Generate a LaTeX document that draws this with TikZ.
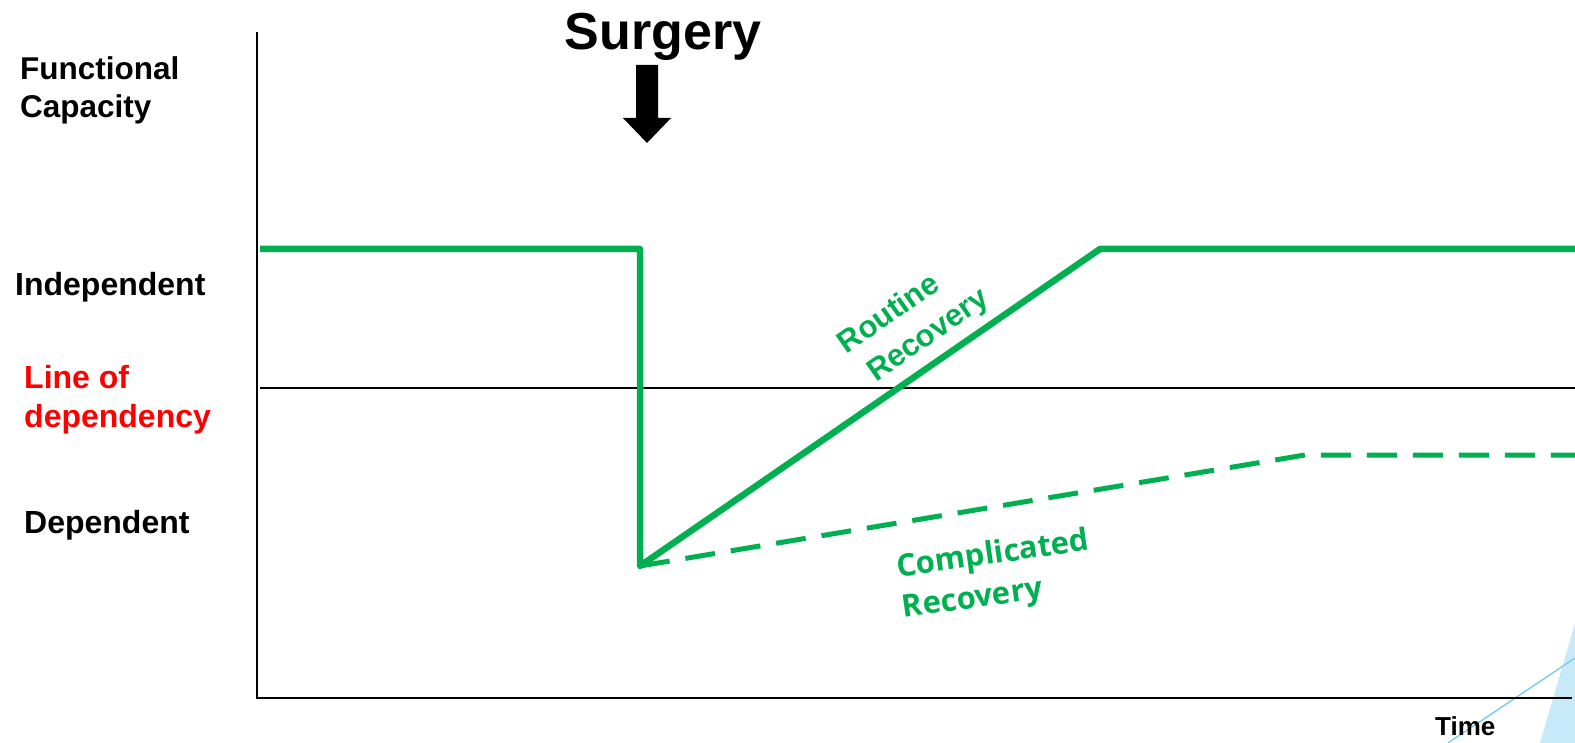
\documentclass[tikz,border=0pt]{standalone}
\usepackage{fontspec}
\setmainfont{Liberation Sans}
\newfontfamily\labelfont{Open Sans}
\usepackage{tikz}
\definecolor{recgreen}{HTML}{00B050}
\definecolor{slidefill}{HTML}{C8EAF8}
\definecolor{slideline}{HTML}{7FCFEE}

\begin{document}
\begin{tikzpicture}
            [x=1pt,y=-1pt,
                axis/.style={black,line width=2pt},
                routine/.style={recgreen,line width=6.5pt,line join=round},
                complicated/.style={recgreen,line width=5pt,dash pattern=on 30pt off 16pt},
                lbl/.style={inner sep=0pt,font=\bfseries\fontsize{32}{39}\selectfont}]
            \useasboundingbox (0,0) rectangle (1575,743);
            %corner decoration of the slide
            \fill[slidefill] (1575,623) -- (1540,743) -- (1575,743) -- cycle;
            \draw[slideline,line width=1.5pt] (1448,743) -- (1575,658);

            %axes and the line of dependency
            \draw[axis] (257,32) -- (257,698) -- (1572,698);
            \draw[axis] (260,388) -- (1575,388);

            %points of the two courses
            \coordinate (before) at (260,249);
            \coordinate (op) at (640,249);
            \coordinate (low) at (640,566);
            \coordinate (back) at (1100,249);
            \coordinate (routineend) at (1575,249);
            \coordinate (plateau) at (1305,455);
            \coordinate (complicatedend) at (1575,455);

            %routine and complicated recovery
            \draw[complicated] (low) -- (plateau) -- (complicatedend);
            \draw[routine] (before) -- (op) -- (low) -- (back) -- (routineend);

            %labels on the left
            \node[lbl,anchor=west,align=left,font=\bfseries\fontsize{31.5}{38}\selectfont] (capacity) at (20,90) {Functional\\Capacity};
            \node[lbl,anchor=base west] (indep) at (15,296) {Independent};
            \node[lbl,anchor=west,align=left,red] (linedep) at (24,400) {Line of\\dependency};
            \node[lbl,anchor=base west] (dep) at (24,533) {Dependent};
            \node[lbl,anchor=base west,font=\bfseries\fontsize{26}{30}\selectfont] (time) at (1435,735) {Time};

            %surgery and its arrow
            \node[lbl,anchor=base,font=\bfseries\fontsize{52}{60}\selectfont] (surgery) at (663,50) {Surgery};
            \fill (636,65) -- (658,65) -- (658,118) -- (671,118) -- (647,143) -- (623,118) -- (636,118) -- cycle;

            %names of the courses
            \node[lbl,recgreen,rotate=35,align=left,font=\bfseries\fontsize{31}{40}\selectfont] (routinelbl) at (914,322) {Routine\\\hspace*{8pt}Recovery};
            \node[lbl,recgreen,rotate=8,align=left,font=\labelfont\bfseries\fontsize{31}{41}\selectfont] (complicatedlbl) at (996,576) {Complicated\\Recovery};
        \end{tikzpicture}
\end{document}
